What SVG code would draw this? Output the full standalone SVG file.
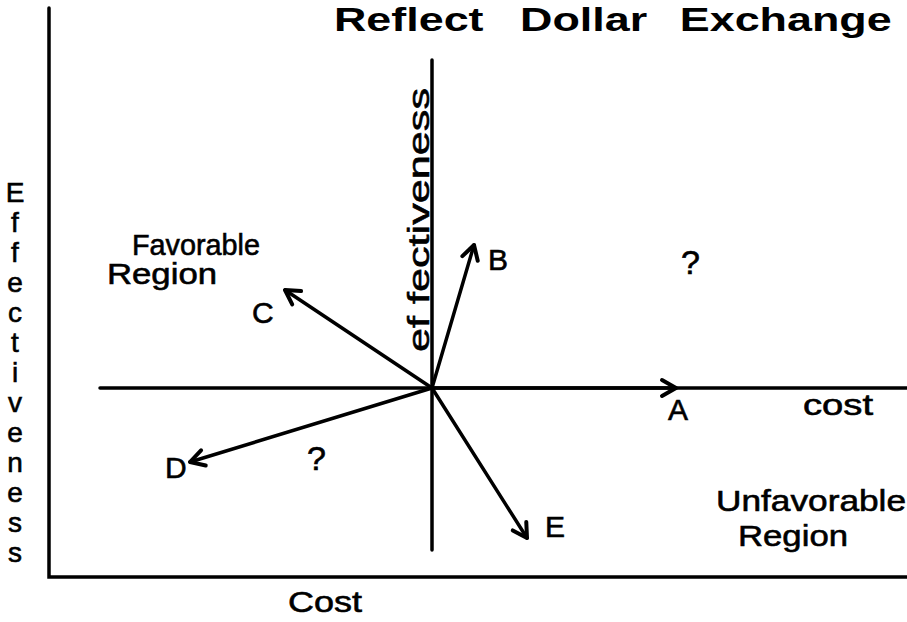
<svg xmlns="http://www.w3.org/2000/svg" width="907" height="622" viewBox="0 0 907 622">
<style>
text{font-family:"Liberation Sans",Arial,sans-serif;fill:#000}
.lbl{font-size:30px;stroke:#000;stroke-width:0.6}
.q{font-size:34px}
.title{font-size:34px;font-weight:bold}
.ax{stroke:#000;stroke-width:3.5;fill:none;stroke-linecap:round}
.vec{stroke:#000;stroke-width:3.5;fill:none;stroke-linecap:round}
</style>
<defs>
<marker id="chev" markerUnits="userSpaceOnUse" markerWidth="30" markerHeight="30" viewBox="-20 -15 30 30" refX="0" refY="0" orient="auto">
<path d="M-14,-8 L0,0 L-14,8" fill="none" stroke="#000" stroke-width="4" stroke-linecap="round" stroke-linejoin="round"/>
</marker>
</defs>
<rect width="907" height="622" fill="#fff"/>
<g id="title"><text class="title" transform="scale(1.32,1)" y="31"><tspan x="253">Reflect</tspan><tspan x="394">Dollar</tspan><tspan x="515">Exchange</tspan></text></g>
<g id="axes">
<path class="ax" d="M49,8 L49,577 L907,577"/>
<path class="ax" d="M100,388 L907,388"/>
<path class="ax" d="M432,60 L432,550"/>
</g>
<g id="axis-labels">
<text class="lbl" style="font-size:28px" text-anchor="middle"><tspan x="15" y="202">E</tspan><tspan x="15" y="232">f</tspan><tspan x="15" y="262">f</tspan><tspan x="15" y="292">e</tspan><tspan x="15" y="322">c</tspan><tspan x="15" y="352">t</tspan><tspan x="15" y="382">i</tspan><tspan x="15" y="412">v</tspan><tspan x="15" y="442">e</tspan><tspan x="15" y="472">n</tspan><tspan x="15" y="502">e</tspan><tspan x="15" y="532">s</tspan><tspan x="15" y="562">s</tspan></text>
<text class="lbl" x="288" y="612" textLength="74" lengthAdjust="spacingAndGlyphs">Cost</text>
<text class="lbl" transform="translate(429,352) rotate(-90)" x="0" y="0" textLength="264" lengthAdjust="spacingAndGlyphs">ef fectiveness</text>
<text class="lbl" x="803" y="415" textLength="70" lengthAdjust="spacingAndGlyphs">cost</text>
</g>
<g id="connectors">
<path class="vec" d="M432,388 L676,388" marker-end="url(#chev)"/>
<path class="vec" d="M432,388 L474,245" marker-end="url(#chev)"/>
<path class="vec" d="M432,388 L285,290" marker-end="url(#chev)"/>
<path class="vec" d="M432,388 L190,462" marker-end="url(#chev)"/>
<path class="vec" d="M432,388 L527,538" marker-end="url(#chev)"/>
</g>
<g id="node-A"><text class="lbl" x="668" y="420">A</text></g>
<g id="node-B"><text class="lbl" x="488" y="270">B</text></g>
<g id="node-C"><text class="lbl" x="252" y="323">C</text></g>
<g id="node-D"><text class="lbl" x="165" y="478">D</text></g>
<g id="node-E"><text class="lbl" x="545" y="537">E</text></g>
<g id="favorable"><text class="lbl"><tspan x="132" y="255" textLength="128" lengthAdjust="spacingAndGlyphs">Favorable</tspan><tspan x="107" y="284" textLength="110" lengthAdjust="spacingAndGlyphs">Region</tspan></text></g>
<g id="unfavorable"><text class="lbl"><tspan x="716" y="511" textLength="190" lengthAdjust="spacingAndGlyphs">Unfavorable</tspan><tspan x="738" y="546" textLength="110" lengthAdjust="spacingAndGlyphs">Region</tspan></text></g>
<g id="q1"><text class="lbl q" x="681" y="274">?</text></g>
<g id="q2"><text class="lbl q" x="307" y="470">?</text></g>
</svg>
